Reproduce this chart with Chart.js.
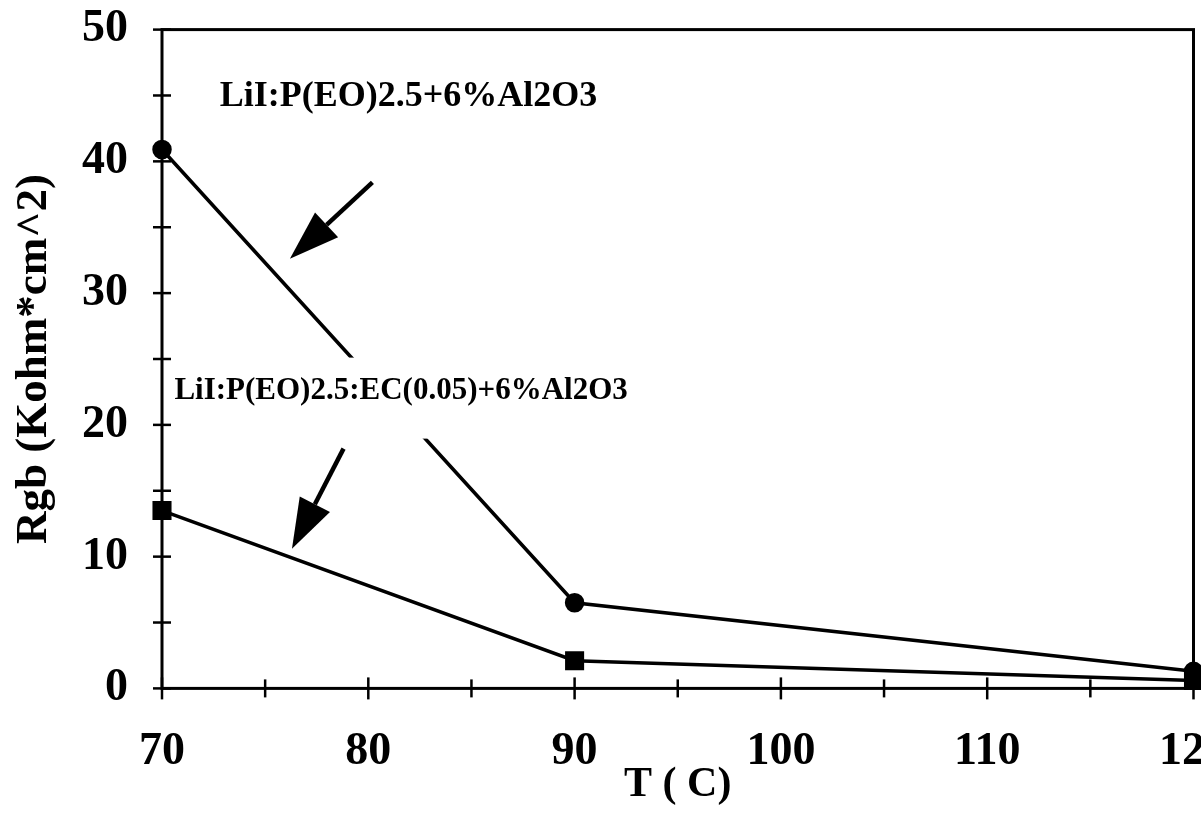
<!DOCTYPE html>
<html>
  <head>
    <title>Rgb vs T</title>
    <script src="https://cdn.jsdelivr.net/npm/chart.js@4.4.0/dist/chart.umd.min.js"></script>
    <style>
      html,body{
        margin: 0;
        padding: 0;
        overflow: hidden;
        background: #fff;
      }
      #myChart{
        display: block;
        margin-top: -32px;
      }
    </style>
  </head>
  <body>
    <canvas id="myChart" width="1264" height="858"></canvas>

    <script>
      // dados
      const temperaturas = [70, 90, 120]
      const rgbSemEC = [40.9, 6.5, 1.3]   // LiI:P(EO)2.5+6%Al2O3
      const rgbComEC = [13.5, 2.1, 0.6]   // LiI:P(EO)2.5:EC(0.05)+6%Al2O3

      const rotulos = ['LiI:P(EO)2.5+6%Al2O3', 'LiI:P(EO)2.5:EC(0.05)+6%Al2O3']
      const rotuloFonte = [36, 31]
      // posicao dos rotulos (x esquerdo, y centro) em unidades dos eixos
      const rotuloX = [72.8, 70.6]
      const rotuloY = [44.9, 22.6]
      // setas: cauda -> ponta, em unidades dos eixos
      const setaDe = [[80.2, 38.4], [78.8, 18.2]]
      const setaPara = [[76.2, 32.6], [76.3, 10.6]]

      const fonte = "'Liberation Serif', 'Times New Roman', serif"

      const anotacoes = {
        id: 'anotacoes',
        afterDatasetsDraw(chart){
          const ctx = chart.ctx
          const xs = chart.scales.x, ys = chart.scales.y
          ctx.save()
          ctx.textBaseline = 'middle'
          rotulos.forEach((txt, i) => {
            ctx.font = 'bold ' + rotuloFonte[i] + 'px ' + fonte
            const px = xs.getPixelForValue(rotuloX[i])
            const py = ys.getPixelForValue(rotuloY[i])
            const w = ctx.measureText(txt).width
            ctx.fillStyle = '#fff'
            ctx.fillRect(px - 4, py - 33, w + 8, 81)
            ctx.fillStyle = '#000'
            ctx.fillText(txt, px, py)
          })
          // setas
          setaDe.forEach((de, i) => {
            const x0 = xs.getPixelForValue(de[0]), y0 = ys.getPixelForValue(de[1])
            const x1 = xs.getPixelForValue(setaPara[i][0]), y1 = ys.getPixelForValue(setaPara[i][1])
            const ang = Math.atan2(y1 - y0, x1 - x0)
            const cab = 50, larg = 17
            const bx = x1 - cab * Math.cos(ang), by = y1 - cab * Math.sin(ang)
            ctx.strokeStyle = '#000'
            ctx.lineWidth = 4.5
            ctx.beginPath()
            ctx.moveTo(x0, y0)
            ctx.lineTo(bx, by)
            ctx.stroke()
            ctx.fillStyle = '#000'
            ctx.beginPath()
            ctx.moveTo(x1, y1)
            ctx.lineTo(bx + larg * Math.sin(ang), by - larg * Math.cos(ang))
            ctx.lineTo(bx - larg * Math.sin(ang), by + larg * Math.cos(ang))
            ctx.closePath()
            ctx.fill()
          })
          ctx.restore()
        },
        afterDraw(chart){
          // moldura e marcas cruzando os eixos
          const ctx = chart.ctx
          const a = chart.chartArea
          const xs = chart.scales.x, ys = chart.scales.y
          ctx.save()
          ctx.strokeStyle = '#000'
          ctx.lineWidth = 3
          ctx.strokeRect(a.left, a.top, a.right - a.left, a.bottom - a.top)
          ctx.lineWidth = 2.5
          xs.ticks.forEach(t => {
            const px = xs.getPixelForValue(t.value)
            const h = t.value % 10 === 0 ? 11 : 9
            ctx.beginPath()
            ctx.moveTo(px, a.bottom - h)
            ctx.lineTo(px, a.bottom + h)
            ctx.stroke()
          })
          ys.ticks.forEach(t => {
            const py = ys.getPixelForValue(t.value)
            ctx.beginPath()
            ctx.moveTo(a.left - 9, py)
            ctx.lineTo(a.left + 9, py)
            ctx.stroke()
          })
          ctx.restore()
        }
      }

      const ctx = document.getElementById('myChart').getContext('2d')
      const myChart = new Chart(ctx, {
        type: 'line',
        data: {
          datasets: [
            {
              label: rotulos[0],
              data: temperaturas.map((t, i) => ({x: t, y: rgbSemEC[i]})),
              borderColor: '#000',
              backgroundColor: '#000',
              borderWidth: 3.5,
              pointStyle: 'circle',
              pointRadius: 8,
              fill: false,
              tension: 0
            },
            {
              label: rotulos[1],
              data: temperaturas.map((t, i) => ({x: t, y: rgbComEC[i]})),
              borderColor: '#000',
              backgroundColor: '#000',
              borderWidth: 3.5,
              pointStyle: 'rect',
              pointRadius: 11,
              fill: false,
              tension: 0
            }
          ]
        },
        options: {
          responsive: false,
          animation: false,
          clip: false,
          layout: {padding: {top: 6, right: 31, left: 7, bottom: 16}},
          plugins: {
            legend: {display: false},
            tooltip: {enabled: false}
          },
          scales: {
            x: {
              type: 'linear',
              min: 70,
              max: 120,
              border: {display: false},
              grid: {display: false, drawTicks: false},
              ticks: {
                stepSize: 5,
                color: '#000',
                padding: 36,
                font: {family: fonte, size: 46, weight: 'bold'},
                callback: v => v % 10 === 0 ? v : ''
              },
              title: {
                display: true,
                text: 'T ( C)',
                color: '#000',
                padding: {top: -56, bottom: 0},
                font: {family: fonte, size: 42, weight: 'bold'}
              }
            },
            y: {
              min: 0,
              max: 50,
              border: {display: false},
              grid: {display: false, drawTicks: false},
              ticks: {
                stepSize: 5,
                color: '#000',
                padding: 34,
                font: {family: fonte, size: 46, weight: 'bold'},
                callback: v => v % 10 === 0 ? v : ''
              },
              title: {
                display: true,
                text: 'Rgb (Kohm*cm^2)',
                color: '#000',
                padding: {top: 0, bottom: -13},
                font: {family: fonte, size: 45, weight: 'bold'}
              }
            }
          }
        },
        plugins: [anotacoes]
      })
    </script>
  </body>
</html>
